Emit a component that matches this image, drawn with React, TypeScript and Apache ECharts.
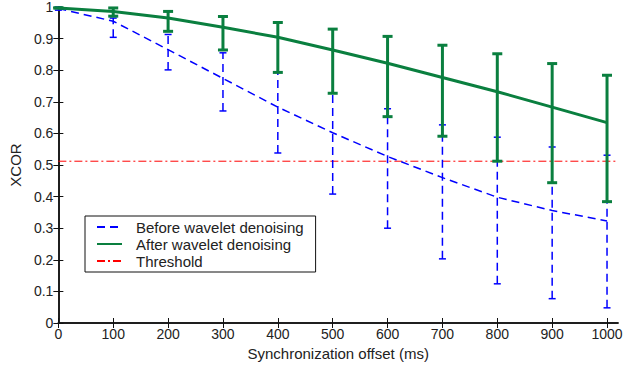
import React, { useEffect, useRef } from "react";
import * as echarts from "echarts";

const offsets = [0, 100, 200, 300, 400, 500, 600, 700, 800, 900, 1000];
const beforeMean = [0.995, 0.955, 0.865, 0.774, 0.683, 0.602, 0.527, 0.46, 0.398, 0.356, 0.323];
const beforeLow = [0.99, 0.904, 0.801, 0.671, 0.538, 0.408, 0.3, 0.203, 0.124, 0.077, 0.048];
const beforeHigh = [1.0, 0.965, 0.913, 0.855, 0.793, 0.727, 0.678, 0.627, 0.588, 0.557, 0.531];
const afterMean = [0.997, 0.986, 0.965, 0.936, 0.904, 0.864, 0.822, 0.777, 0.732, 0.683, 0.634];
const afterLow = [0.997, 0.971, 0.923, 0.864, 0.793, 0.727, 0.653, 0.591, 0.512, 0.444, 0.384];
const afterHigh = [0.997, 0.997, 0.986, 0.97, 0.951, 0.93, 0.907, 0.879, 0.852, 0.821, 0.784];
const threshold = 0.512;
const xTicks = [0, 100, 200, 300, 400, 500, 600, 700, 800, 900, 1000];

const BLUE = "#0000ff";
const GREEN = "#0a7f3f";
const RED = "#ff0000";
const FONT = "Liberation Sans";

function errorBars(color: string, width: number, capHalf: number, dashed: boolean) {
  return (params: any, api: any) => {
    const x = api.value(0);
    const lo = api.coord([x, api.value(1)]);
    const hi = api.coord([x, api.value(2)]);
    const style = { stroke: color, lineWidth: width, lineDash: dashed ? [8, 5] : null };
    const cap = { stroke: color, lineWidth: width };
    return {
      type: "group",
      children: [
        { type: "line", shape: { x1: lo[0], y1: lo[1], x2: hi[0], y2: hi[1] }, style },
        { type: "line", shape: { x1: lo[0] - capHalf, y1: lo[1], x2: lo[0] + capHalf, y2: lo[1] }, style: cap },
        { type: "line", shape: { x1: hi[0] - capHalf, y1: hi[1], x2: hi[0] + capHalf, y2: hi[1] }, style: cap },
      ],
    };
  };
}

export default function App() {
  const ref = useRef<HTMLDivElement>(null);
  useEffect(() => {
    if (!ref.current) return;
    const chart = echarts.init(ref.current, undefined, { renderer: "svg" });
    const axisLine = { show: true, lineStyle: { color: "#111", width: 1.5 } };
    const tickStyle = { color: "#222", fontFamily: FONT, fontSize: 14 };
    const titleStyle = { color: "#222", fontFamily: FONT, fontSize: 15 };
    chart.setOption({
      animation: false,
      backgroundColor: "#fff",
      grid: { left: 58, right: 21, top: 6, bottom: 45, containLabel: false },
      legend: {
        data: ["Before wavelet denoising", "After wavelet denoising", "Threshold"],
        orient: "vertical",
        left: 85,
        top: 216,
        itemWidth: 25,
        itemHeight: 16,
        itemGap: 1,
        padding: [3, 12, 3, 11],
        borderColor: "#111",
        borderWidth: 1,
        backgroundColor: "#fff",
        itemStyle: { opacity: 0 },
        textStyle: { color: "#222", fontFamily: FONT, fontSize: 15, lineHeight: 16, padding: [0, 0, 0, 9] },
      },
      xAxis: [
        {
          type: "value",
          min: 0,
          max: 1020,
          interval: 100,
          name: "Synchronization offset (ms)",
          nameLocation: "middle",
          nameGap: 22,
          nameTextStyle: titleStyle,
          axisLine,
          axisTick: { inside: true, length: 5, lineStyle: { color: "#111" }, customValues: xTicks },
          axisLabel: { ...tickStyle, margin: 4, customValues: xTicks, formatter: (v: number) => String(v) },
          splitLine: { show: false },
        },
        {
          type: "value",
          position: "top",
          min: 0,
          max: 1020,
          interval: 100,
          axisLine,
          axisTick: { inside: true, length: 5, lineStyle: { color: "#111" }, customValues: xTicks },
          axisLabel: { show: false },
          splitLine: { show: false },
        },
      ],
      yAxis: [
        {
          type: "value",
          min: 0,
          max: 1,
          interval: 0.1,
          name: "XCOR",
          nameLocation: "middle",
          nameGap: 32,
          nameTextStyle: titleStyle,
          axisLine,
          axisTick: { inside: true, length: 5, lineStyle: { color: "#111" } },
          axisLabel: { ...tickStyle, margin: 5 },
          splitLine: { show: false },
        },
        {
          type: "value",
          position: "right",
          min: 0,
          max: 1,
          interval: 0.1,
          axisLine,
          axisTick: { inside: true, length: 5, lineStyle: { color: "#111" } },
          axisLabel: { show: false },
          splitLine: { show: false },
        },
      ],
      series: [
        {
          name: "Threshold",
          type: "line",
          symbol: "none",
          data: [[0, threshold], [1020, threshold]],
          lineStyle: { color: RED, width: 1, type: [8, 3, 2, 3] },
          itemStyle: { color: RED },
          z: 1,
        },
        {
          name: "Before wavelet denoising",
          type: "line",
          symbol: "none",
          data: offsets.map((x, i) => [x, beforeMean[i]]),
          lineStyle: { color: BLUE, width: 1.5, type: [8, 5] },
          itemStyle: { color: BLUE },
          z: 2,
        },
        {
          name: "before-err",
          type: "custom",
          renderItem: errorBars(BLUE, 1.5, 3.5, true),
          data: offsets.map((x, i) => [x, beforeLow[i], beforeHigh[i]]),
          encode: { x: 0, y: [1, 2] },
          z: 2,
        },
        {
          name: "After wavelet denoising",
          type: "line",
          symbol: "none",
          data: offsets.map((x, i) => [x, afterMean[i]]),
          lineStyle: { color: GREEN, width: 3 },
          itemStyle: { color: GREEN },
          z: 3,
        },
        {
          name: "after-err",
          type: "custom",
          renderItem: errorBars(GREEN, 3, 5, false),
          data: offsets.map((x, i) => [x, afterLow[i], afterHigh[i]]),
          encode: { x: 0, y: [1, 2] },
          z: 3,
        },
      ],
    });
    return () => chart.dispose();
  }, []);
  return (
    <div
      ref={ref}
      style={{ position: "fixed", left: 0, top: 0, width: 639, height: 368, background: "#fff" }}
    />
  );
}
